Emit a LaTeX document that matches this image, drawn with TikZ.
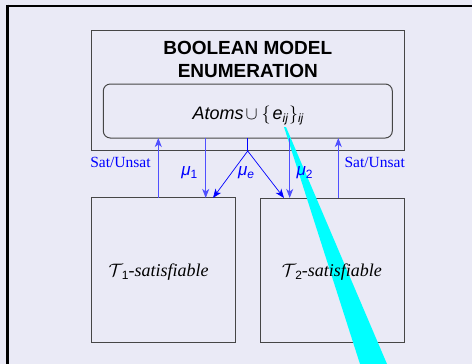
\RequirePackage{fix-cm}
\documentclass[tikz,border=0pt]{standalone}
\usepackage{fontspec}
\setmainfont{Liberation Serif}
\setsansfont{Liberation Sans}
\usetikzlibrary{arrows.meta}
\definecolor{bg}{RGB}{234,234,246}
\definecolor{boxline}{RGB}{70,70,70}
\definecolor{arrowblue}{RGB}{80,80,255}
\definecolor{pointer}{RGB}{0,255,255}
\newcommand{\sbs}[1]{\raisebox{-3pt}{\fontsize{12}{12}\selectfont\sffamily #1}}
\tikzset{
  box/.style={draw=boxline, line width=1pt, inner sep=0pt, outer sep=0pt},
  rbox/.style={box, rounded corners=7pt},
  vline/.style={draw=arrowblue, line width=1pt},
  tip/.style={-{Stealth[length=9pt,width=7pt,inset=2.5pt]}},
  dline/.style={draw=blue, line width=0.7pt},
  lbl/.style={anchor=base, inner sep=0pt, text=blue},
  txt/.style={anchor=base, inner sep=0pt},
}
\begin{document}
\begin{tikzpicture}[x=1pt,y=-1pt]
\useasboundingbox (0,0) rectangle (472,364);
\fill[bg] (0,0) rectangle (472,364);
% frame
\draw[line width=2.7pt] (6,6) -- (472,6);
\draw[line width=3pt] (7.5,4.7) -- (7.5,364);
% boxes
\node[box, minimum width=312.6pt, minimum height=120pt] (bme) at (248,90) {};
\node[rbox, minimum width=289pt, minimum height=54pt] (atoms) at (247.8,111) {};
\node[box, minimum width=144.3pt, minimum height=144.3pt] (t1) at (163.8,270.1) {};
\node[box, minimum width=144pt, minimum height=144pt] (t2) at (332,270) {};
% cyan pointer
\fill[pointer] (284,127) -- (286,127) -- (387,364) -- (360,364) -- cycle;
% x positions
\coordinate (xs1) at (158.3,0);
\coordinate (xm1) at (205.7,0);
\coordinate (xm2) at (289.7,0);
\coordinate (xs2) at (338.3,0);
\coordinate (me) at (247.7,151);
\coordinate (xl) at (213,0);
\coordinate (xr) at (284,0);
% arrows
\draw[vline, tip] (t1.north -| xs1) -- (atoms.south -| xs1);
\draw[vline, tip] (atoms.south -| xm1) -- (t1.north -| xm1);
\draw[vline, tip] (atoms.south -| xm2) -- (t2.north -| xm2);
\draw[vline, tip] (t2.north -| xs2) -- (atoms.south -| xs2);
\draw[draw=blue, line width=1.2pt] (atoms.south -| me) -- (me);
\draw[dline, tip] (me) -- (t1.north -| xl);
\draw[dline, tip] (me) -- (t2.north -| xr);
% texts
\node[txt, font=\fontsize{19}{23}\selectfont\sffamily\bfseries] (title1) at (247.8,54) {BOOLEAN MODEL};
\node[txt, font=\fontsize{19}{23}\selectfont\sffamily\bfseries] (title2) at (247.8,77) {ENUMERATION};
\node[txt, font=\fontsize{18}{20}\selectfont] (atomstxt) at (248,119.3)
  {{\sffamily\itshape Atoms}\kern2pt$\cup$\kern4pt$\{$\kern2pt{\sffamily\itshape e}\sbs{\itshape ij}\kern1pt$\}$\sbs{\itshape ij}};
\node[lbl, font=\fontsize{15.5}{17}\selectfont] (su1) at (120.5,167.5) {Sat/Unsat};
\node[lbl, font=\fontsize{15.5}{17}\selectfont] (su2) at (374.7,167.5) {Sat/Unsat};
\node[lbl, font=\fontsize{17}{19}\selectfont\sffamily] (mu1) at (189.4,175.5) {\textit{μ}\sbs{1}};
\node[lbl, font=\fontsize{17}{19}\selectfont\sffamily] (mue) at (246,175.5) {\textit{μ}\sbs{\itshape e}};
\node[lbl, font=\fontsize{17}{19}\selectfont\sffamily] (mu2) at (304.5,175.5) {\textit{μ}\sbs{2}};
\node[txt, font=\fontsize{18}{20}\selectfont, anchor=base west] (t1txt) at (108.3,276.7)
  {$\mathcal{T}$\kern-1pt\sbs{1}\textit{-satisfiable}};
\node[txt, font=\fontsize{18}{20}\selectfont, anchor=base west] (t2txt) at (281.7,276.7)
  {$\mathcal{T}$\kern-1pt\sbs{2}\textit{-satisfiable}};
\end{tikzpicture}
\end{document}
